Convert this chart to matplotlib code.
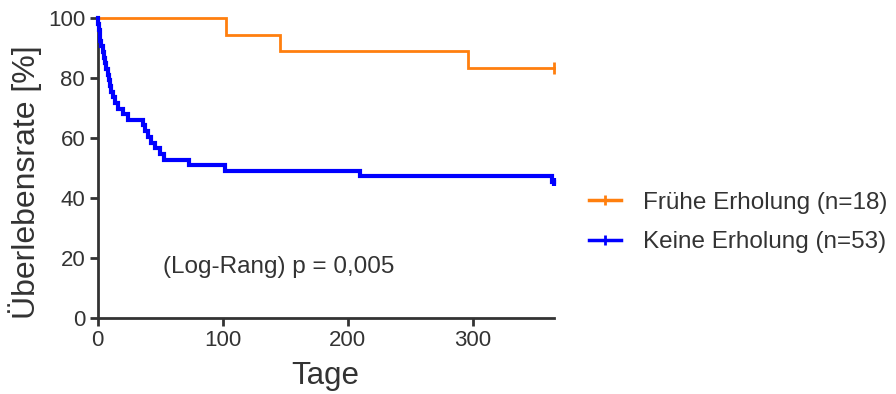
import matplotlib.pyplot as plt
from matplotlib.lines import Line2D

plt.rcParams['font.family'] = ['Liberation Sans', 'DejaVu Sans']

# Kaplan-Meier steps: day of event, survival (%) after the event
frueh_tage = [0, 103, 146, 296, 365]
frueh_surv = [100.0, 94.4, 88.9, 83.3, 83.3]

keine_tage = [0, 0.5, 1, 1.5, 2, 3, 4, 5, 6, 7, 8, 9, 10, 11, 12, 14, 16, 20, 24,
              36, 38, 40, 43, 46, 50, 53, 73, 102, 210, 364, 365]
keine_surv = [100.0, 98.1, 96.2, 94.3, 92.5, 90.6, 88.7, 86.8, 84.9, 83.0, 81.1,
              79.2, 77.4, 75.5, 73.6, 71.7, 69.8, 67.9, 66.0, 64.2, 62.3, 60.4,
              58.5, 56.6, 54.7, 52.8, 50.9, 49.1, 47.2, 45.3, 45.3]

labels = ['Frühe Erholung (n=18)', 'Keine Erholung (n=53)']
colors = ['#ff7f0e', '#0000ff']
text_col = '#333333'

fig = plt.figure(figsize=(8.96, 3.94), dpi=100)
ax = fig.add_axes([0.109, 0.193, 0.509, 0.761])

ax.step(frueh_tage, frueh_surv, where='post', color=colors[0], lw=2.0,
        solid_joinstyle='miter', clip_on=False, zorder=3)
ax.step(keine_tage, keine_surv, where='post', color=colors[1], lw=3.0,
        solid_joinstyle='miter', clip_on=False, zorder=3)
# censor marks at end of follow-up
ax.plot(frueh_tage[-1], frueh_surv[-1], marker='|', ms=9, mew=2, color=colors[0], clip_on=False)
ax.plot(keine_tage[-1], keine_surv[-1], marker='|', ms=6, mew=3, color=colors[1], clip_on=False)

ax.set_xlim(0, 365)
ax.set_ylim(0, 100)
ax.set_xticks([0, 100, 200, 300])
ax.set_yticks([0, 20, 40, 60, 80, 100])
for side in ['top', 'right']:
    ax.spines[side].set_visible(False)
for side in ['left', 'bottom']:
    ax.spines[side].set_linewidth(2)
    ax.spines[side].set_color(text_col)
ax.tick_params(direction='out', length=6, width=2, color=text_col,
               labelsize=16, labelcolor=text_col, pad=3)

ax.set_xlabel('Tage', fontsize=22.5, color=text_col, va='center')
ax.xaxis.set_label_coords(0.498, -0.193)
ax.set_ylabel('Überlebensrate [%]', fontsize=23, color=text_col, va='center')
ax.yaxis.set_label_coords(-0.160, 0.453)

ax.text(52, 17, '(Log-Rang) p = 0,005', fontsize=17.5, color=text_col, va='center')

handles = [Line2D([], [], color=c, lw=2.5, marker='|', ms=7, mew=2) for c in colors]
leg = fig.legend(handles, labels, loc='center left', bbox_to_anchor=(0.633, 0.435),
                 frameon=False, fontsize=17.5, handlelength=1.3, labelspacing=0.72,
                 handletextpad=0.9)
for t in leg.get_texts():
    t.set_color(text_col)

fig.savefig('out.png', dpi=100)
